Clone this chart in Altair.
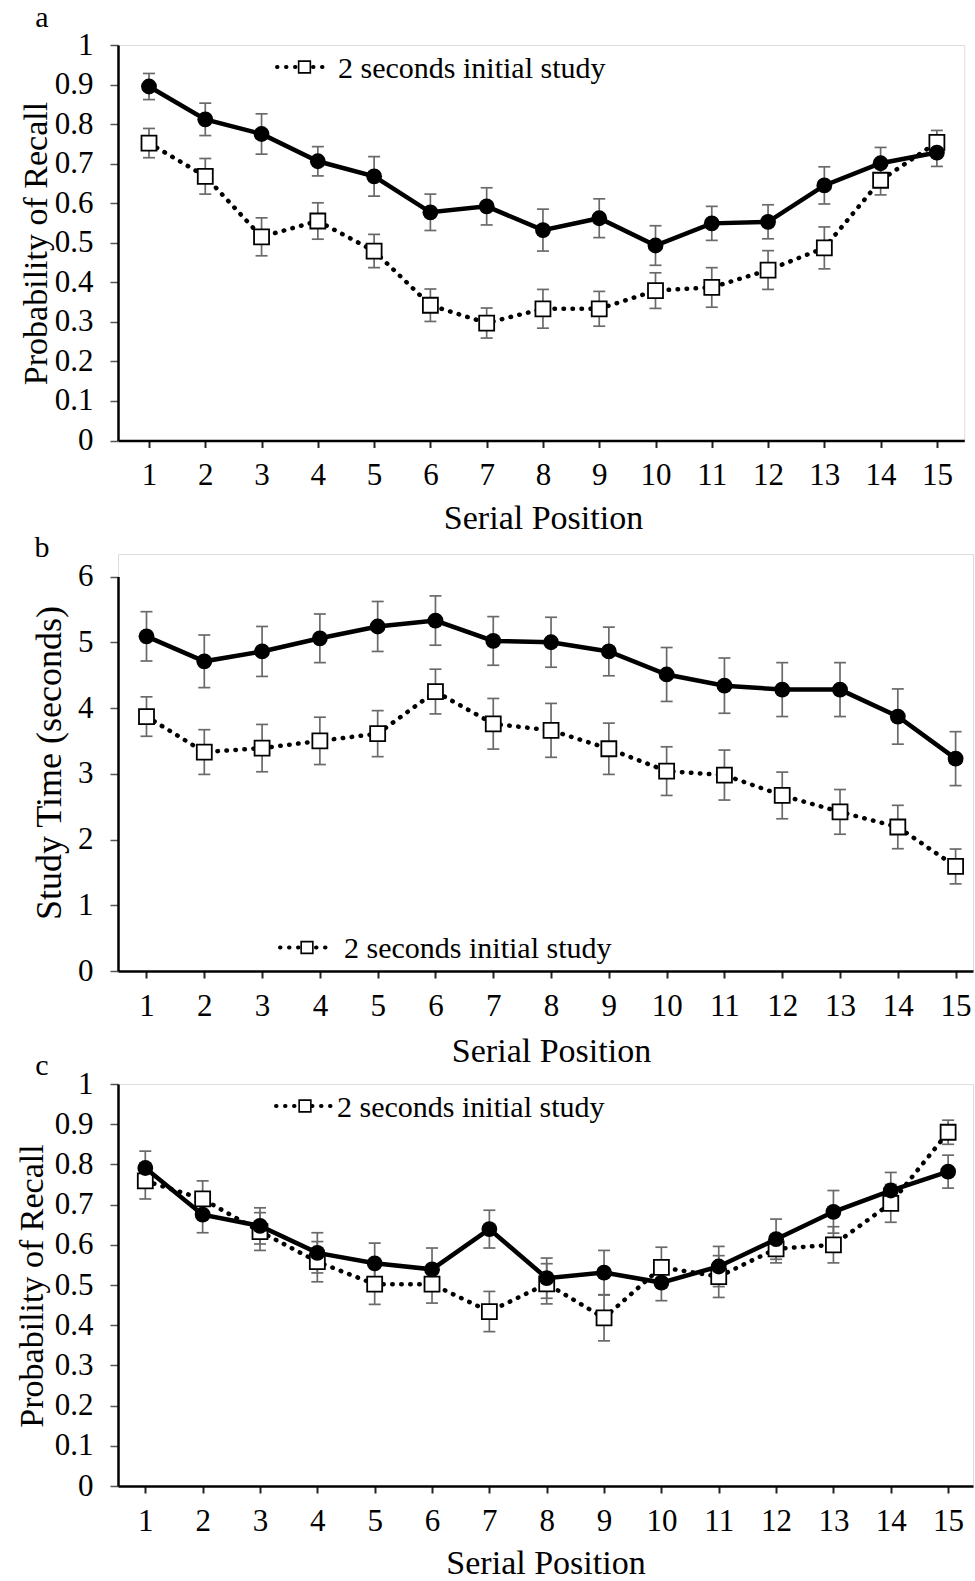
import altair as alt
import pandas as pd

FONT = "Liberation Serif"
GRAY = "#6a6a6a"

positions = list(range(1, 16))
legend_label = "2 seconds initial study"
x_title = "Serial Position"

# Panel a: probability of recall
a_solid = [0.895, 0.812, 0.775, 0.706, 0.668, 0.577, 0.592, 0.532, 0.562, 0.493, 0.549, 0.553, 0.645, 0.701, 0.728]
a_solid_err = [0.033, 0.041, 0.051, 0.037, 0.050, 0.046, 0.047, 0.053, 0.049, 0.050, 0.043, 0.043, 0.047, 0.040, 0.035]
a_open = [0.752, 0.668, 0.515, 0.555, 0.479, 0.342, 0.297, 0.333, 0.333, 0.379, 0.387, 0.431, 0.487, 0.658, 0.754]
a_open_err = [0.037, 0.045, 0.048, 0.046, 0.042, 0.041, 0.038, 0.049, 0.044, 0.045, 0.050, 0.049, 0.053, 0.037, 0.030]

# Panel b: study time (seconds)
b_solid = [5.09, 4.71, 4.86, 5.06, 5.24, 5.33, 5.02, 5.00, 4.86, 4.51, 4.34, 4.28, 4.28, 3.87, 3.23]
b_solid_err = [0.375, 0.40, 0.38, 0.37, 0.38, 0.375, 0.37, 0.38, 0.37, 0.41, 0.42, 0.41, 0.41, 0.42, 0.41]
b_open = [3.87, 3.33, 3.39, 3.50, 3.61, 4.25, 3.76, 3.66, 3.38, 3.04, 2.98, 2.67, 2.42, 2.19, 1.59]
b_open_err = [0.30, 0.34, 0.36, 0.36, 0.35, 0.34, 0.385, 0.41, 0.39, 0.37, 0.38, 0.355, 0.34, 0.33, 0.265]

# Panel c: probability of recall
c_solid = [0.791, 0.675, 0.647, 0.580, 0.554, 0.539, 0.639, 0.517, 0.531, 0.506, 0.546, 0.614, 0.682, 0.735, 0.782]
c_solid_err = [0.042, 0.045, 0.045, 0.050, 0.050, 0.053, 0.047, 0.050, 0.055, 0.045, 0.050, 0.050, 0.053, 0.045, 0.041]
c_open = [0.759, 0.714, 0.633, 0.558, 0.502, 0.502, 0.434, 0.503, 0.418, 0.544, 0.521, 0.590, 0.600, 0.703, 0.880]
c_open_err = [0.045, 0.045, 0.047, 0.050, 0.050, 0.047, 0.050, 0.050, 0.057, 0.050, 0.052, 0.035, 0.045, 0.047, 0.030]

recall_ticks = [0, 0.1, 0.2, 0.3, 0.4, 0.5, 0.6, 0.7, 0.8, 0.9, 1]
time_ticks = [0, 1, 2, 3, 4, 5, 6]


def build_df(solid, serr, open_, oerr):
    rows = []
    for p, v, e in zip(positions, solid, serr):
        rows.append({"pos": p, "val": v, "lo": v - e, "hi": v + e, "series": "solid"})
    for p, v, e in zip(positions, open_, oerr):
        rows.append({"pos": p, "val": v, "lo": v - e, "hi": v + e, "series": "open"})
    return pd.DataFrame(rows)


def panel(cfg):
    df = build_df(cfg["solid"], cfg["serr"], cfg["open"], cfg["oerr"])
    xscale = alt.Scale(domain=cfg["xdom"], nice=False, zero=False)
    yargs = dict(domain=cfg["ydom"], nice=False, zero=False)
    if cfg.get("yrange"):
        yargs["range"] = cfg["yrange"]
    yscale = alt.Scale(**yargs)
    xaxis = alt.Axis(
        values=positions, title=x_title, grid=False, labelFlush=False, labelOverlap=False,
        tickSize=7, tickWidth=2, tickColor="#222222", domainColor="black", domainWidth=2.5,
        labelFont=FONT, labelFontSize=31, labelColor="black", labelBaseline="middle",
        labelPadding=28, titleFont=FONT, titleFontSize=34, titleFontWeight="normal",
        titleColor="black", titleBaseline="middle", titleAlign="center",
        titleX=cfg["xtitle_x"], titleY=cfg["xtitle_y"],
    )
    yaxis = alt.Axis(
        values=cfg["yvals"], format=cfg["yfmt"], title=cfg["ytitle"], grid=False,
        labelOverlap=False, labelFlush=False,
        tickSize=8, tickWidth=1.5, tickColor="#555555", domainColor="black", domainWidth=2.5,
        labelFont=FONT, labelFontSize=31, labelColor="black", labelPadding=17,
        titleFont=FONT, titleFontSize=cfg["ytitle_size"], titleFontWeight="normal",
        titleColor="black", titleAngle=270, titleAlign="center", titleBaseline="middle",
        titleX=cfg["ytitle_x"], titleY=cfg["ytitle_y"],
    )
    X = alt.X("pos:Q", scale=xscale, axis=xaxis)

    def Y(field):
        return alt.Y(field, scale=yscale, axis=yaxis)

    base = alt.Chart(df)
    err = base.mark_rule(color=GRAY, strokeWidth=1.7).encode(x=X, y=Y("lo:Q"), y2="hi:Q")
    cap_lo = base.mark_tick(orient="horizontal", size=12, thickness=1.7, color=GRAY, opacity=1).encode(x=X, y=Y("lo:Q"))
    cap_hi = base.mark_tick(orient="horizontal", size=12, thickness=1.7, color=GRAY, opacity=1).encode(x=X, y=Y("hi:Q"))
    open_line = base.transform_filter(alt.datum.series == "open").mark_line(
        color="black", strokeWidth=4.5, strokeDash=[0.5, 8.5], strokeCap="round"
    ).encode(x=X, y=Y("val:Q"), order="pos:Q")
    open_pts = base.transform_filter(alt.datum.series == "open").mark_point(
        shape="square", filled=True, fill="white", stroke="black", strokeWidth=1.8, size=225, opacity=1
    ).encode(x=X, y=Y("val:Q"))
    solid_line = base.transform_filter(alt.datum.series == "solid").mark_line(
        color="black", strokeWidth=4.5
    ).encode(x=X, y=Y("val:Q"), order="pos:Q")
    solid_pts = base.transform_filter(alt.datum.series == "solid").mark_circle(
        color="black", size=250, opacity=1
    ).encode(x=X, y=Y("val:Q"))

    one = pd.DataFrame({"k": [0]})
    lg = cfg["legend"]
    leg_line = alt.Chart(one).mark_rule(
        color="black", strokeWidth=4, strokeDash=[0.5, 8.5], strokeCap="round"
    ).encode(x=alt.value(lg["x0"]), x2=alt.value(lg["x1"]), y=alt.value(lg["y"]))
    leg_sq = alt.Chart(one).mark_point(
        shape="square", filled=True, fill="white", stroke="black", strokeWidth=1.6, size=137, opacity=1
    ).encode(x=alt.value(lg["sx"]), y=alt.value(lg["y"]))
    leg_txt = alt.Chart(one).mark_text(
        align="left", baseline="middle", font=FONT, fontSize=30, color="black"
    ).encode(x=alt.value(lg["tx"]), y=alt.value(lg["y"] + 1.5), text=alt.value(legend_label))
    lab = alt.Chart(one).mark_text(
        align="center", baseline="alphabetic", font=FONT, fontSize=30, color="black"
    ).encode(x=alt.value(cfg["label_x"]), y=alt.value(cfg["label_y"]), text=alt.value(cfg["label"]))

    layers = [err, cap_lo, cap_hi, open_line, open_pts, solid_line, solid_pts, leg_line, leg_sq, leg_txt, lab]
    if cfg.get("anchor"):
        anchor = alt.Chart(one).mark_rule(opacity=0, strokeOpacity=0).encode(
            x=alt.value(-117), x2=alt.value(-117), y=alt.value(-44), y2=alt.value(-44)
        )
        layers.append(anchor)
    return alt.layer(*layers).properties(width=cfg["width"], height=cfg["height"])


pa = panel(dict(
    solid=a_solid, serr=a_solid_err, open=a_open, oerr=a_open_err,
    ydom=[0, 1], yvals=recall_ticks, yfmt=".1~f", ytitle="Probability of Recall", ytitle_size=34,
    ytitle_x=-82, ytitle_y=198, height=395.5, xdom=[0.4492, 15.487], width=846.3,
    xtitle_x=425, xtitle_y=78,
    legend=dict(x0=159, x1=210, sx=186.5, tx=220, y=22),
    label="a", label_x=-76, label_y=-18, anchor=True,
))

pb = panel(dict(
    solid=b_solid, serr=b_solid_err, open=b_open, oerr=b_open_err,
    ydom=[0, 6], yvals=time_ticks, yfmt="d", ytitle="Study Time (seconds)", ytitle_size=36,
    ytitle_x=-68.5, ytitle_y=208.5, yrange=[417, 22.5], height=417, xdom=[0.5069, 15.301], width=855,
    xtitle_x=433, xtitle_y=80,
    legend=dict(x0=162, x1=216, sx=189, tx=226, y=393.5),
    label="b", label_x=-76, label_y=2.5,
))

pc = panel(dict(
    solid=c_solid, serr=c_solid_err, open=c_open, oerr=c_open_err,
    ydom=[0, 1], yvals=recall_ticks, yfmt=".1~f", ytitle="Probability of Recall", ytitle_size=34,
    ytitle_x=-85.5, ytitle_y=201.5, height=402, xdom=[0.5239, 15.434], width=855,
    xtitle_x=427.5, xtitle_y=77.5,
    legend=dict(x0=158, x1=213, sx=187, tx=219, y=22),
    label="c", label_x=-76, label_y=-8.8,
))

chart = alt.vconcat(pa, pb, pc, spacing=113, bounds="flush", padding=0).configure_view(
    stroke=None
).configure(font=FONT, background="white")

chart.save("out.html", embed_options={"renderer": "svg", "actions": False})
